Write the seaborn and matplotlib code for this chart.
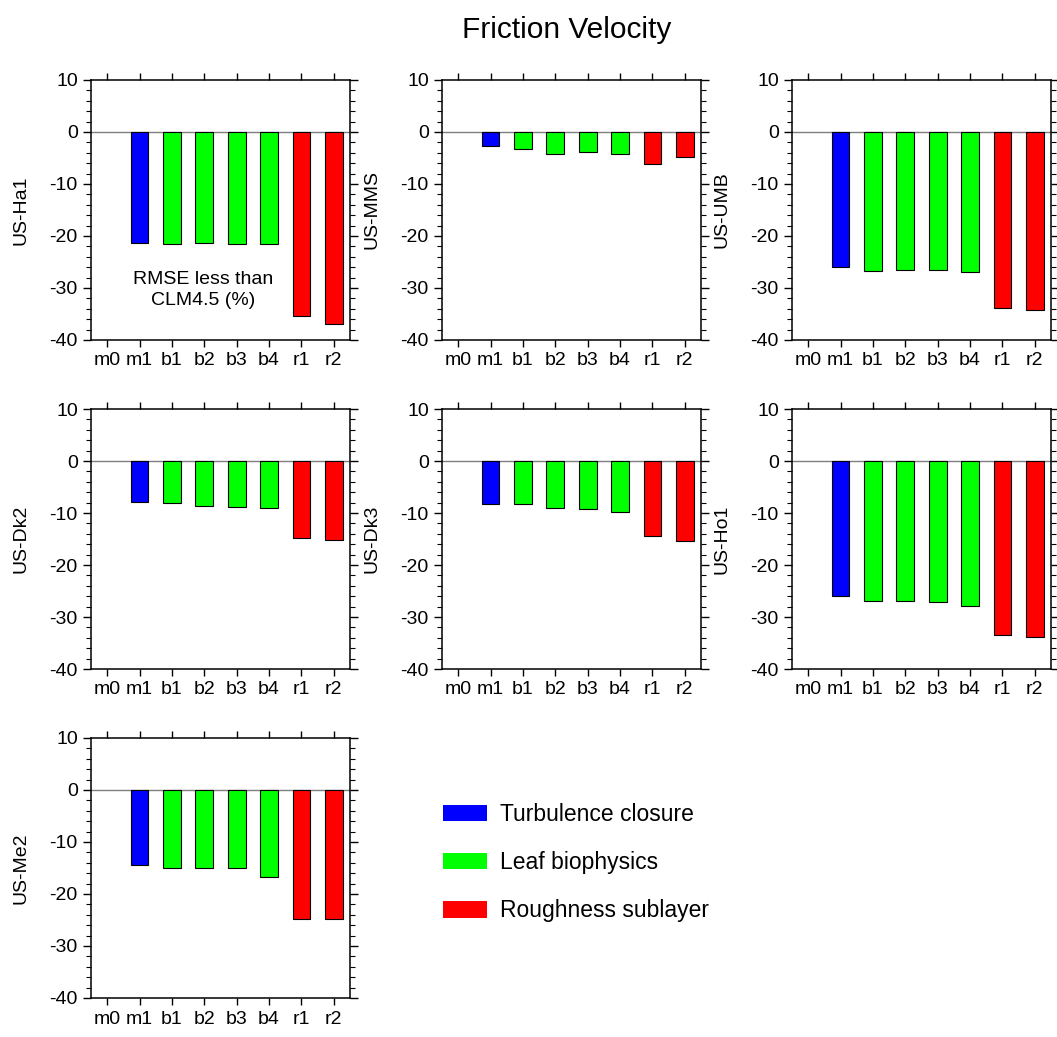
import numpy as np
import pandas as pd
import matplotlib
matplotlib.use("Agg")
import matplotlib.pyplot as plt
from matplotlib.patches import Patch
from matplotlib.ticker import MultipleLocator
import seaborn as sns

# Model experiments along the x axis
runs = ["m0", "m1", "b1", "b2", "b3", "b4", "r1", "r2"]
groups = ["base", "Turbulence closure", "Leaf biophysics", "Leaf biophysics",
          "Leaf biophysics", "Leaf biophysics", "Roughness sublayer", "Roughness sublayer"]

# RMSE reduction relative to CLM4.5 (%), per flux tower site
us_ha1 = [np.nan, -21.4, -21.6, -21.3, -21.6, -21.6, -35.3, -37.0]
us_mms = [np.nan, -2.7, -3.3, -4.2, -3.9, -4.2, -6.2, -4.8]
us_umb = [np.nan, -25.9, -26.7, -26.6, -26.6, -26.9, -33.8, -34.3]
us_dk2 = [np.nan, -7.8, -8.1, -8.6, -8.9, -9.0, -14.8, -15.2]
us_dk3 = [np.nan, -8.2, -8.3, -9.0, -9.2, -9.8, -14.4, -15.3]
us_ho1 = [np.nan, -25.9, -27.0, -27.0, -27.2, -27.9, -33.5, -33.9]
us_me2 = [np.nan, -14.5, -15.0, -15.0, -15.0, -16.8, -24.8, -24.8]

sites = ["US-Ha1", "US-MMS", "US-UMB", "US-Dk2", "US-Dk3", "US-Ho1", "US-Me2"]
site_values = [us_ha1, us_mms, us_umb, us_dk2, us_dk3, us_ho1, us_me2]

legend_labels = ["Turbulence closure", "Leaf biophysics", "Roughness sublayer"]
palette = {"base": "#ffffff", "Turbulence closure": "#0000ff",
           "Leaf biophysics": "#00ff00", "Roughness sublayer": "#ff0000"}

frames = []
for site, vals in zip(sites, site_values):
    frames.append(pd.DataFrame({"site": site, "run": runs, "group": groups, "value": vals}))
df = pd.concat(frames, ignore_index=True)

sns.set_style("ticks")
plt.rcParams["font.family"] = ["Liberation Sans", "DejaVu Sans"]
plt.rcParams["axes.unicode_minus"] = False
plt.rcParams["text.color"] = "black"
plt.rcParams["axes.labelcolor"] = "black"
plt.rcParams["xtick.color"] = "black"
plt.rcParams["ytick.color"] = "black"

W, H = 1057, 1037
fig = plt.figure(figsize=(W / 100, H / 100), dpi=100)

col_left = [91, 442, 792]
row_top = [80, 409, 738]
ax_w, ax_h = 259, 260

for i, site in enumerate(sites):
    r, c = divmod(i, 3)
    ax = fig.add_axes([col_left[c] / W, 1 - (row_top[r] + ax_h) / H, ax_w / W, ax_h / H])
    sub = df[df["site"] == site]
    sns.barplot(data=sub, x="run", y="value", hue="group", order=runs,
                hue_order=list(palette.keys()), palette=palette, dodge=False,
                saturation=1, width=0.55, edgecolor="black", linewidth=0.8,
                legend=False, ax=ax)
    ax.axhline(0, color="#7f7f7f", linewidth=1.0, zorder=0.5)
    ax.set_xlim(-0.5, 7.5)
    ax.set_ylim(-40, 10)
    ax.set_yticks(range(-40, 11, 10))
    ax.yaxis.set_minor_locator(MultipleLocator(2))
    ax.set_xlabel("")
    ax.set_ylabel(site, fontsize=14, labelpad=14)
    for sp in ax.spines.values():
        sp.set_visible(True)
        sp.set_linewidth(1.1)
        sp.set_color("black")
    ax.tick_params(axis="both", which="major", direction="out", length=5.5,
                   width=1.0, labelsize=14, top=True, right=True, pad=4)
    ax.tick_params(axis="y", which="minor", direction="out", length=3.5,
                   width=0.8, left=True, right=True)
    ax.tick_params(axis="x", which="major", length=5)
    if site == "US-Ha1":
        ax.text(2.95, -30.4, "RMSE less than\nCLM4.5 (%)", ha="center", va="center",
                fontsize=14, linespacing=1.25)

fig.text(567 / W, 1 - 30 / H, "Friction Velocity", ha="center", va="center", fontsize=21.5)

handles = [Patch(facecolor=palette[g], edgecolor="none") for g in legend_labels]
fig.legend(handles, legend_labels, loc="upper left", bbox_to_anchor=(427 / W, 1 - 787 / H),
           frameon=False, fontsize=16.5, handlelength=1.9, handleheight=0.73,
           labelspacing=1.1, handletextpad=0.6, borderpad=0.2)

fig.savefig("out.png", dpi=100)
